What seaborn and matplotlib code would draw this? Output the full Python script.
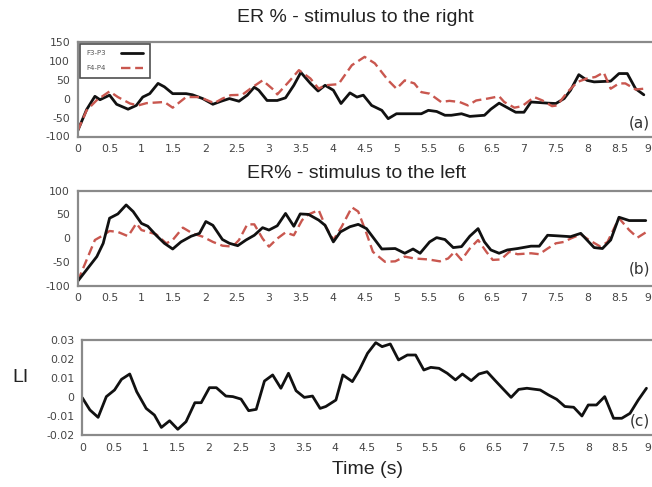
import matplotlib
matplotlib.use("Agg")
import matplotlib.pyplot as plt
import seaborn as sns
import numpy as np

# ---------------- data ----------------
# (a) stimulus to the right
t_a_f3 = [0, 0.14, 0.27, 0.35, 0.5, 0.61, 0.79, 0.92, 1.02, 1.13, 1.26, 1.36, 1.49, 1.70, 1.80, 1.96,
          2.12, 2.25, 2.38, 2.53, 2.66, 2.77, 2.84, 2.97, 3.13, 3.26, 3.39, 3.5, 3.65, 3.77, 3.88,
          4.01, 4.13, 4.27, 4.38, 4.48, 4.61, 4.77, 4.87, 5.0, 5.39, 5.5, 5.63, 5.76, 5.86, 6.02,
          6.15, 6.38, 6.48, 6.61, 6.74, 6.87, 7.0, 7.11, 7.37, 7.5, 7.63, 7.73, 7.86, 7.99, 8.1,
          8.36, 8.49, 8.62, 8.75, 8.88]
v_a_f3 = [-85, -29, 6, -3, 9, -15, -28, -18, 4, 13, 40, 31, 13, 13, 10, 0,
          -15, -7, 0, -7, 9, 30, 22, -5, -5, 2, 35, 69, 40, 20, 35,
          22, -13, 15, 4, 9, -18, -31, -53, -40, -40, -31, -34, -44, -44, -40,
          -47, -44, -28, -12, -24, -36, -36, -9, -12, -13, 0, 22, 63, 48, 44,
          46, 66, 66, 26, 10]
t_a_f4 = [0, 0.14, 0.3, 0.5, 0.63, 0.82, 0.95, 1.08, 1.36, 1.49, 1.70, 1.91, 2.04, 2.14, 2.27, 2.40,
          2.58, 2.74, 2.9, 3.08, 3.13, 3.31, 3.47, 3.65, 3.78, 3.88, 4.09, 4.3, 4.5, 4.66, 4.87,
          5.0, 5.13, 5.28, 5.39, 5.52, 5.7, 5.83, 5.99, 6.12, 6.25, 6.43, 6.61, 6.69, 6.85, 6.97,
          7.16, 7.29, 7.44, 7.52, 7.68, 7.84, 7.99, 8.12, 8.25, 8.36, 8.49, 8.59, 8.75, 8.88]
v_a_f4 = [-85, -31, -4, 19, 4, -13, -18, -12, -9, -24, 4, 4, -5, -12, 0, 9,
          10, 30, 48, 22, 11, 44, 75, 53, 26, 35, 38, 88, 110, 93, 48,
          26, 48, 40, 17, 13, -9, -6, -9, -18, -5, 0, 6, -9, -24, -20,
          4, -5, -20, -18, 17, 44, 53, 57, 69, 26, 40, 40, 24, 26]

# (b) stimulus to the left
t_b_f3 = [0, 0.3, 0.4, 0.5, 0.63, 0.76, 0.87, 1.0, 1.1, 1.23, 1.36, 1.49, 1.62, 1.78, 1.91, 2.01,
          2.12, 2.27, 2.38, 2.51, 2.64, 2.77, 2.9, 3.0, 3.13, 3.26, 3.39, 3.49, 3.62, 3.78, 3.88,
          4.01, 4.12, 4.27, 4.4, 4.53, 4.77, 4.98, 5.13, 5.26, 5.37, 5.52, 5.63, 5.76, 5.89, 6.02,
          6.15, 6.28, 6.38, 6.48, 6.61, 6.74, 6.9, 7.11, 7.24, 7.37, 7.5, 7.73, 7.89, 8.1, 8.23,
          8.36, 8.49, 8.65, 8.91]
v_b_f3 = [-91, -39, -11, 42, 51, 70, 56, 31, 25, 6, -11, -23, -8, 4, 10, 35,
          27, -3, -11, -16, -4, 6, 22, 17, 26, 52, 25, 51, 50, 38, 27,
          -8, 13, 24, 29, 20, -23, -22, -32, -23, -32, -8, 1, -3, -20, -18,
          4, 20, -8, -25, -32, -25, -22, -17, -17, 6, 5, 3, 10, -20, -22,
          -4, 44, 37, 37]
t_b_f4 = [0, 0.14, 0.27, 0.4, 0.5, 0.63, 0.79, 0.92, 1.0, 1.23, 1.39, 1.49, 1.65, 1.8, 1.96, 2.12,
          2.27, 2.43, 2.53, 2.66, 2.77, 2.9, 3.0, 3.13, 3.26, 3.39, 3.52, 3.62, 3.78, 3.88,
          4.01, 4.14, 4.3, 4.4, 4.53, 4.63, 4.82, 4.98, 5.13, 5.28, 5.5, 5.68, 5.81, 5.91, 6.02,
          6.15, 6.28, 6.41, 6.51, 6.64, 6.77, 6.9, 7.11, 7.24, 7.37, 7.5, 7.63, 7.73, 7.89, 8.02,
          8.2, 8.31, 8.49, 8.65, 8.78, 8.91]
v_b_f4 = [-91, -46, -4, 6, 15, 13, 4, 31, 17, 8, -11, -4, 22, 10, 3, -8,
          -16, -18, -4, 29, 29, -1, -18, -1, 12, 6, 38, 50, 59, 27,
          -4, 24, 65, 56, 10, -29, -50, -49, -39, -43, -45, -49, -43, -29, -46,
          -22, -4, -29, -46, -45, -29, -34, -32, -34, -22, -11, -8, -1, 8, -4,
          -18, -8, 42, 17, 1, 12]

# (c) lateralization index
t_c = [0, 0.12, 0.25, 0.38, 0.51, 0.62, 0.75, 0.86, 1.01, 1.14, 1.25, 1.38, 1.51, 1.64, 1.78, 1.88,
       2.01, 2.12, 2.27, 2.38, 2.51, 2.63, 2.75, 2.88, 3.01, 3.14, 3.26, 3.38, 3.51, 3.64, 3.76,
       3.85, 4.01, 4.12, 4.27, 4.38, 4.51, 4.64, 4.74, 4.87, 5.0, 5.14, 5.27, 5.4, 5.51, 5.64,
       5.77, 5.9, 6.01, 6.15, 6.27, 6.4, 6.53, 6.66, 6.78, 6.9, 7.03, 7.24, 7.37, 7.5, 7.63,
       7.77, 7.9, 8.0, 8.13, 8.26, 8.4, 8.53, 8.66, 8.79, 8.92]
v_c = [-0.0004, -0.0068, -0.0107, 0.0002, 0.0037, 0.0093, 0.0121, 0.0028, -0.006, -0.0095, -0.016,
       -0.0125, -0.017, -0.013, -0.003, -0.003, 0.0049, 0.0049, 0.0005, 0.0002, -0.0011, -0.0072,
       -0.0065, 0.0084, 0.0116, 0.0046, 0.0125, 0.0033, -0.0002, 0.0005, -0.006,
       -0.005, -0.0016, 0.0116, 0.0081, 0.0142, 0.023, 0.0286, 0.0265, 0.0279, 0.0195, 0.0221,
       0.0221, 0.0142, 0.0156, 0.0151, 0.0125, 0.009, 0.0121, 0.0086, 0.0121, 0.0133, 0.0086,
       0.004, -0.0002, 0.004, 0.0046, 0.0037, 0.0011, -0.0012, -0.005, -0.0054, -0.01, -0.0042,
       -0.0042, 0.0002, -0.0112, -0.0112, -0.0086, -0.0016, 0.0046]

x_ticks = [0, 0.5, 1, 1.5, 2, 2.5, 3, 3.5, 4, 4.5, 5, 5.5, 6, 6.5, 7, 7.5, 8, 8.5, 9]
x_labels = ["0", "0.5", "1", "1.5", "2", "2.5", "3", "3.5", "4", "4.5", "5", "5.5", "6", "6.5",
            "7", "7.5", "8", "8.5", "9"]
ya_ticks = [-100, -50, 0, 50, 100, 150]
yb_ticks = [-100, -50, 0, 50, 100]
yc_ticks = [-0.02, -0.01, 0, 0.01, 0.02, 0.03]
yc_labels = ["-0.02", "-0.01", "0", "0.01", "0.02", "0.03"]

# ---------------- style ----------------
sns.set_style("white")
plt.rcParams["font.family"] = ["DejaVu Sans"]

BLACK = "#111111"
RED = "#c9574f"
SPINE = "#8a8a8a"
TICKC = "#444444"

fig = plt.figure(figsize=(6.52, 4.87), dpi=100)
W, H = 652.0, 487.0


def make_ax(left_px, top_px, bottom_px, right_px):
    return fig.add_axes([left_px / W, 1 - bottom_px / H, (right_px - left_px) / W, (bottom_px - top_px) / H])


ax_a = make_ax(77.7, 41.7, 136.5, 651.5)
ax_b = make_ax(77.7, 190.7, 285.5, 651.5)
ax_c = make_ax(82.3, 340.0, 435.0, 651.5)

sns.lineplot(x=t_a_f3, y=v_a_f3, ax=ax_a, color=BLACK, linewidth=2.0, label="F3-P3")
sns.lineplot(x=t_a_f4, y=v_a_f4, ax=ax_a, color=RED, linewidth=1.7, linestyle=(0, (4, 2)), label="F4-P4")
sns.lineplot(x=t_b_f4, y=v_b_f4, ax=ax_b, color=RED, linewidth=1.7, linestyle=(0, (4, 2)))
sns.lineplot(x=t_b_f3, y=v_b_f3, ax=ax_b, color=BLACK, linewidth=2.0)
sns.lineplot(x=t_c, y=v_c, ax=ax_c, color=BLACK, linewidth=2.0)

for ax in (ax_a, ax_b, ax_c):
    ax.set_xlim(0, 9)
    ax.set_xticks(x_ticks)
    ax.set_xticklabels(x_labels)
    ax.set_xlabel("")
    ax.set_ylabel("")
    for s in ax.spines.values():
        s.set_color(SPINE)
        s.set_linewidth(1.6)
        s.set_visible(True)
    ax.spines["right"].set_visible(False)
    ax.tick_params(axis="both", direction="out", length=4, width=1.2, color=SPINE,
                   labelcolor=TICKC, labelsize=7.8, pad=1.5)
    # last tick label sits at the figure edge: keep it inside
    ax.get_xticklabels()[-1].set_horizontalalignment("right")

ax_a.set_ylim(-100, 150)
ax_a.set_yticks(ya_ticks)
ax_a.set_yticklabels([str(v) for v in ya_ticks])
ax_b.set_ylim(-100, 100)
ax_b.set_yticks(yb_ticks)
ax_b.set_yticklabels([str(v) for v in yb_ticks])
ax_c.set_ylim(-0.02, 0.03)
ax_c.set_yticks(yc_ticks)
ax_c.set_yticklabels(yc_labels)

leg = ax_a.legend(loc="upper left", bbox_to_anchor=(0.004, 0.975), fontsize=5, frameon=True,
                  fancybox=False, edgecolor="#222222", markerfirst=False, handlelength=3.2,
                  borderpad=0.9, labelspacing=1.3, handletextpad=2.2, borderaxespad=0.0)
leg.get_frame().set_linewidth(1.2)
for txt in leg.get_texts():
    txt.set_color("#555555")

tf = ["Liberation Sans", "DejaVu Sans"]
fig.text(355 / W, 1 - 17 / H, "ER % - stimulus to the right", ha="center", va="center",
         fontsize=14, family=tf, color="#222222")
fig.text(357 / W, 1 - 173 / H, "ER% - stimulus to the left", ha="center", va="center",
         fontsize=14, family=tf, color="#222222")
fig.text(20 / W, 1 - 378 / H, "LI", ha="center", va="center", fontsize=14, family=tf, color="#222222")
fig.text(368 / W, 1 - 470 / H, "Time (s)", ha="center", va="center", fontsize=14, family=tf,
         color="#222222")

fig.text(650 / W, 1 - 123 / H, "(a)", ha="right", va="center", fontsize=11, color="#333333")
fig.text(650 / W, 1 - 269 / H, "(b)", ha="right", va="center", fontsize=11, color="#333333")
fig.text(650 / W, 1 - 421 / H, "(c)", ha="right", va="center", fontsize=11, color="#333333")

fig.savefig("out.png", dpi=100, facecolor="white")
